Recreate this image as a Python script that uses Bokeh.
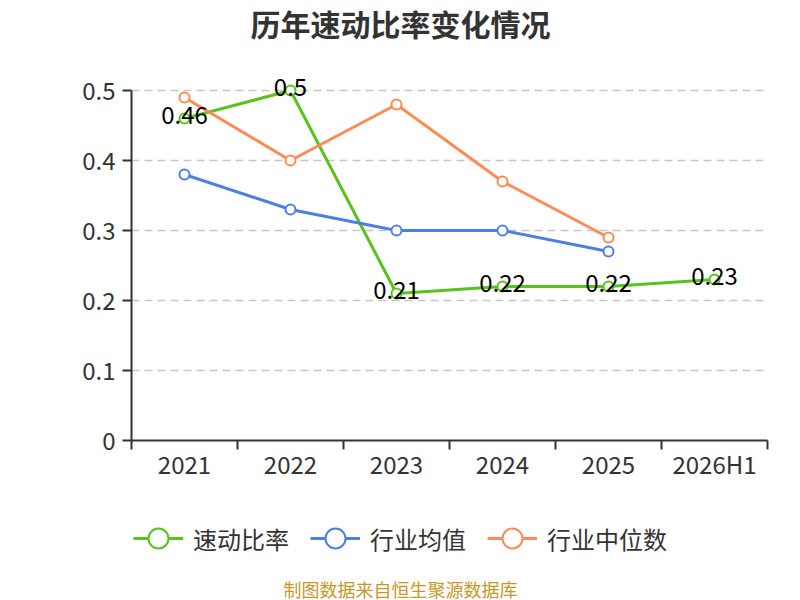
from bokeh.plotting import figure
from bokeh.models import Range1d, FixedTicker, Legend, LegendItem, Label
from bokeh.embed import file_html
from bokeh.resources import INLINE
from bokeh.core.properties import value

categories = ["2021", "2022", "2023", "2024", "2025", "2026H1"]
quick_ratio = [0.46, 0.50, 0.21, 0.22, 0.22, 0.23]
industry_mean = [0.38, 0.33, 0.30, 0.30, 0.27]
industry_median = [0.49, 0.40, 0.48, 0.37, 0.29]
y_ticks = [0, 0.1, 0.2, 0.3, 0.4, 0.5]
y_tick_labels = ["0", "0.1", "0.2", "0.3", "0.4", "0.5"]
series_names = ["速动比率", "行业均值", "行业中位数"]
title_text = "历年速动比率变化情况"
source_text = "制图数据来自恒生聚源数据库"

FONT = "Noto Sans CJK SC"
GREEN = "#59c31e"
BLUE = "#4f80e1"
ORANGE = "#ff8c57"

W, H = 800, 600
# plot-area geometry in pixels (frame covers whole canvas, axes are fixed at 0)
LEFT, BOTTOM, BAND, YSCALE = 131, 440, 106, 700

n = len(categories)
xs = [i + 0.5 for i in range(n)]
bounds_ticks = list(range(n + 1))

p = figure(width=W, height=H, output_backend="svg", toolbar_location=None,
           x_range=Range1d(-LEFT / BAND, (W - LEFT) / BAND),
           y_range=Range1d(-(H - BOTTOM) / YSCALE, BOTTOM / YSCALE),
           min_border=0)
p.outline_line_color = None
p.background_fill_color = "white"
p.border_fill_color = "white"
p.title.visible = False

# x axis
xa = p.xaxis[0]
xa.fixed_location = 0
xa.ticker = FixedTicker(ticks=xs, minor_ticks=bounds_ticks)
xa.major_label_overrides = {x: c for x, c in zip(xs, categories)}
xa.bounds = (0, n)
xa.major_tick_out = 0
xa.major_tick_in = 0
xa.minor_tick_out = 9
xa.minor_tick_in = 0
xa.minor_tick_line_color = "#333333"
xa.minor_tick_line_width = 2
xa.axis_line_color = "#333333"
xa.axis_line_width = 2
xa.major_label_text_font = FONT
xa.major_label_text_font_size = "24px"
xa.major_label_text_color = "#333333"
xa.major_label_standoff = -4

# y axis
ya = p.yaxis[0]
ya.fixed_location = 0
ya.ticker = FixedTicker(ticks=y_ticks, minor_ticks=[])
ya.major_label_overrides = {t: l for t, l in zip(y_ticks, y_tick_labels)}
ya.bounds = (0, 0.5)
ya.major_tick_out = 9
ya.major_tick_in = 0
ya.major_tick_line_color = "#333333"
ya.major_tick_line_width = 2
ya.axis_line_color = "#333333"
ya.axis_line_width = 2
ya.major_label_text_font = FONT
ya.major_label_text_font_size = "24px"
ya.major_label_text_color = "#333333"
ya.major_label_standoff = 7

p.xgrid.visible = False
p.ygrid.visible = False
# dashed horizontal grid lines limited to the plot area
p.segment(x0=[0] * (len(y_ticks) - 1), x1=[n] * (len(y_ticks) - 1), y0=y_ticks[1:], y1=y_ticks[1:],
          line_color="#c8c8c8", line_dash="8 5", line_width=1.5)

renderers = []
for vals, color in [(quick_ratio, GREEN), (industry_mean, BLUE), (industry_median, ORANGE)]:
    xv = xs[:len(vals)]
    lr = p.line(xv, vals, line_color=color, line_width=3)
    sr = p.scatter(xv, vals, size=10, fill_color="white", line_color=color, line_width=2)
    renderers.append([lr, sr])

p.text(xs, quick_ratio, text=[f"{v:g}" for v in quick_ratio], text_align="center",
       text_baseline="middle", y_offset=-4, text_font=value(FONT), text_font_size="24px",
       text_color="black")

legend = Legend(items=[LegendItem(label=nm, renderers=r) for nm, r in zip(series_names, renderers)],
                orientation="horizontal", location=(133, H - 563), padding=0, margin=0,
                glyph_width=50, glyph_height=50, label_standoff=10, spacing=21,
                label_text_font=FONT, label_text_font_size="24px", label_text_color="#333333",
                label_text_baseline="middle",
                border_line_color=None, background_fill_alpha=0)
p.add_layout(legend, "center")

p.add_layout(Label(x=400, y=H - 22, x_units="screen", y_units="screen", text=title_text,
                   text_align="center", text_baseline="middle", text_font=FONT,
                   text_font_size="30px", text_font_style="bold", text_color="#333333"))
p.add_layout(Label(x=400, y=H - 588, x_units="screen", y_units="screen", text=source_text,
                   text_align="center", text_baseline="middle", text_font=FONT,
                   text_font_size="18px", text_color="#c9962b"))

open("out.html", "w").write(file_html(p, INLINE))
